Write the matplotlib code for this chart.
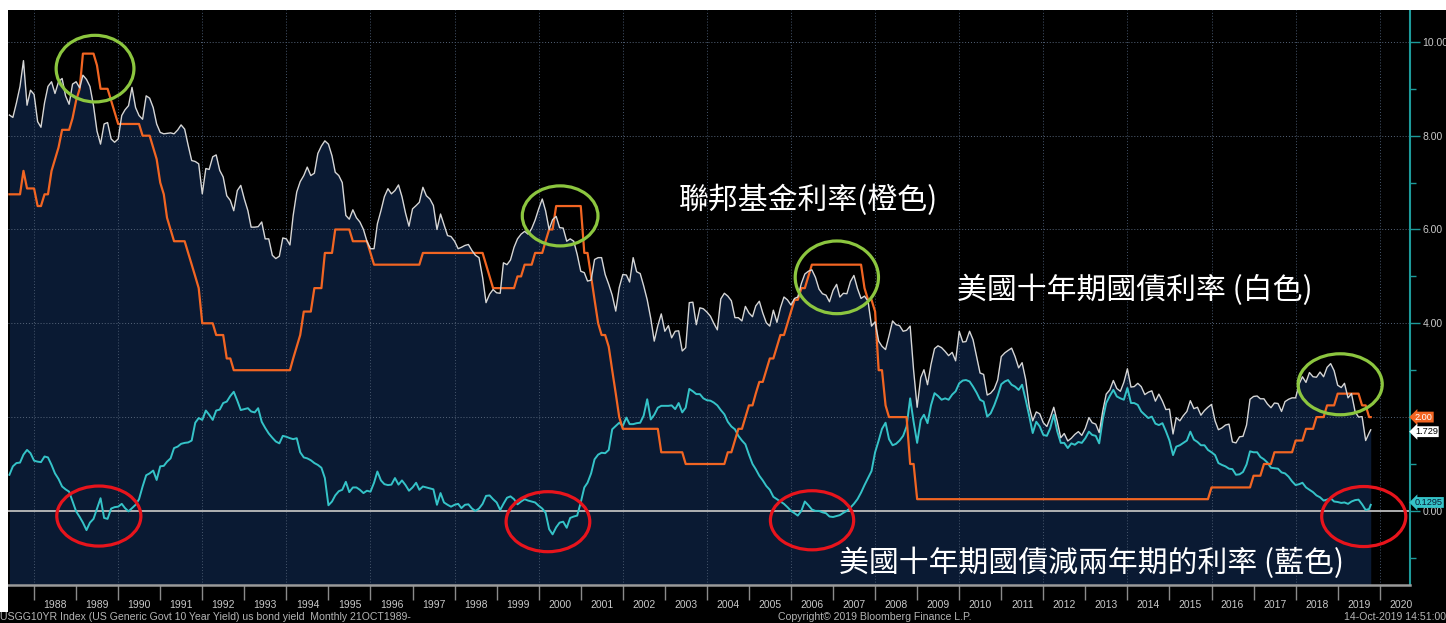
import numpy as np
import pandas as pd
import matplotlib
matplotlib.use("Agg")
import matplotlib.pyplot as plt
from matplotlib.patches import Ellipse, Rectangle
import matplotlib.transforms as mtransforms

# ---- data: month-end values, May 1987 .. 14 Oct 2019 ----
ten_year = [
    # 1987 (May-Dec)
    8.44, 8.39, 8.70, 9.05, 9.60, 8.65, 8.97, 8.88,
    # 1988
    8.30, 8.18, 8.70, 9.05, 9.15, 8.90, 9.15, 9.22, 8.85, 8.67, 9.10, 9.15,
    # 1989
    9.02, 9.29, 9.20, 9.05, 8.64, 8.10, 7.82, 8.25, 8.28, 7.93, 7.86, 7.93,
    # 1990
    8.43, 8.55, 8.64, 9.03, 8.60, 8.43, 8.35, 8.85, 8.80, 8.60, 8.25, 8.07,
    # 1991
    8.04, 8.05, 8.06, 8.04, 8.12, 8.23, 8.14, 7.79, 7.47, 7.45, 7.40, 6.76,
    # 1992
    7.30, 7.28, 7.55, 7.59, 7.26, 7.12, 6.72, 6.62, 6.40, 6.83, 6.94, 6.65,
    # 1993
    6.40, 6.05, 6.05, 6.06, 6.16, 5.80, 5.80, 5.45, 5.38, 5.43, 5.82, 5.80,
    # 1994
    5.67, 6.30, 6.80, 7.02, 7.15, 7.33, 7.15, 7.20, 7.62, 7.78, 7.89, 7.82,
    # 1995
    7.57, 7.22, 7.15, 7.00, 6.30, 6.22, 6.42, 6.25, 6.16, 6.00, 5.75, 5.59,
    # 1996
    5.59, 6.12, 6.40, 6.70, 6.87, 6.76, 6.83, 6.95, 6.70, 6.35, 6.07, 6.44,
    # 1997
    6.51, 6.58, 6.90, 6.72, 6.65, 6.51, 6.00, 6.33, 6.10, 5.87, 5.85, 5.75,
    # 1998
    5.59, 5.62, 5.66, 5.68, 5.55, 5.45, 5.40, 4.98, 4.44, 4.62, 4.72, 4.65,
    # 1999
    4.64, 5.29, 5.25, 5.35, 5.62, 5.80, 5.90, 5.96, 5.90, 6.02, 6.20, 6.44,
    # 2000
    6.65, 6.40, 6.00, 6.21, 6.28, 6.04, 6.03, 5.75, 5.80, 5.75, 5.47, 5.11,
    # 2001
    5.08, 4.90, 4.92, 5.36, 5.40, 5.40, 5.04, 4.83, 4.60, 4.26, 4.76, 5.04,
    # 2002
    5.03, 4.88, 5.40, 5.10, 5.06, 4.80, 4.50, 4.10, 3.62, 3.95, 4.20, 3.83,
    # 2003
    3.95, 3.69, 3.83, 3.84, 3.41, 3.48, 4.44, 4.45, 3.97, 4.33, 4.31, 4.24,
    # 2004
    4.15, 4.00, 3.86, 4.52, 4.64, 4.58, 4.48, 4.12, 4.12, 4.05, 4.36, 4.22,
    # 2005
    4.14, 4.37, 4.47, 4.22, 4.01, 3.94, 4.28, 4.02, 4.33, 4.56, 4.50, 4.39,
    # 2006
    4.53, 4.56, 4.85, 5.05, 5.11, 5.14, 4.98, 4.73, 4.63, 4.60, 4.46, 4.70,
    # 2007
    4.83, 4.56, 4.64, 4.63, 4.89, 5.02, 4.74, 4.53, 4.58, 4.47, 3.94, 4.03,
    # 2008
    3.62, 3.51, 3.44, 3.73, 4.05, 3.97, 3.95, 3.83, 3.85, 3.94, 3.00, 2.21,
    # 2009
    2.84, 3.01, 2.69, 3.12, 3.46, 3.52, 3.48, 3.40, 3.31, 3.38, 3.20, 3.83,
    # 2010
    3.60, 3.61, 3.83, 3.65, 3.29, 2.94, 2.91, 2.47, 2.51, 2.60, 2.79, 3.29,
    # 2011
    3.37, 3.42, 3.47, 3.29, 3.05, 3.16, 2.80, 2.22, 1.92, 2.11, 2.07, 1.88,
    # 2012
    1.80, 1.98, 2.21, 1.91, 1.56, 1.65, 1.49, 1.55, 1.63, 1.69, 1.61, 1.76,
    # 2013
    1.99, 1.88, 1.85, 1.67, 2.13, 2.49, 2.58, 2.78, 2.61, 2.55, 2.74, 3.03,
    # 2014
    2.64, 2.65, 2.72, 2.65, 2.48, 2.53, 2.56, 2.34, 2.49, 2.34, 2.16, 2.17,
    # 2015
    1.64, 1.99, 1.92, 2.03, 2.12, 2.35, 2.18, 2.21, 2.04, 2.14, 2.21, 2.27,
    # 2016
    1.92, 1.73, 1.77, 1.83, 1.85, 1.47, 1.45, 1.58, 1.59, 1.83, 2.38, 2.44,
    # 2017
    2.45, 2.39, 2.39, 2.28, 2.20, 2.30, 2.29, 2.12, 2.33, 2.38, 2.41, 2.41,
    # 2018
    2.71, 2.86, 2.74, 2.95, 2.86, 2.85, 2.96, 2.86, 3.06, 3.14, 2.99, 2.68,
    # 2019 (Jan-Oct)
    2.63, 2.72, 2.41, 2.50, 2.12, 2.00, 2.01, 1.50, 1.66, 1.729,
]

spread_10y_2y = [
    # 1987 (May-Dec)
    0.77, 0.95, 1.02, 1.03, 1.20, 1.30, 1.23, 1.07,
    # 1988
    1.05, 1.04, 1.16, 1.14, 0.98, 0.80, 0.68, 0.52, 0.46, 0.41, 0.20, -0.01,
    # 1989
    -0.13, -0.25, -0.41, -0.25, -0.17, 0.05, 0.27, -0.15, -0.17, 0.05, 0.08, 0.09,
    # 1990
    0.15, 0.06, -0.01, 0.06, 0.13, 0.25, 0.52, 0.76, 0.80, 0.86, 0.66, 0.95,
    # 1991
    0.96, 1.05, 1.12, 1.34, 1.37, 1.43, 1.45, 1.46, 1.50, 1.88, 1.98, 1.94,
    # 1992
    2.14, 2.05, 1.94, 2.14, 2.16, 2.30, 2.33, 2.45, 2.54, 2.35, 2.15, 2.17,
    # 1993
    2.19, 2.12, 2.10, 2.19, 1.90, 1.77, 1.65, 1.56, 1.48, 1.44, 1.60, 1.58,
    # 1994
    1.55, 1.53, 1.55, 1.25, 1.14, 1.12, 1.08, 1.02, 0.98, 0.92, 0.70, 0.12,
    # 1995
    0.20, 0.33, 0.42, 0.45, 0.62, 0.40, 0.50, 0.50, 0.45, 0.38, 0.43, 0.41,
    # 1996
    0.60, 0.84, 0.65, 0.57, 0.55, 0.56, 0.70, 0.56, 0.65, 0.55, 0.43, 0.50,
    # 1997
    0.60, 0.45, 0.52, 0.50, 0.48, 0.46, 0.13, 0.38, 0.18, 0.13, 0.09, 0.13,
    # 1998
    0.15, 0.06, 0.13, 0.14, 0.05, 0.00, 0.05, 0.15, 0.32, 0.33, 0.25, 0.18,
    # 1999
    0.02, 0.15, 0.28, 0.31, 0.25, 0.14, 0.20, 0.25, 0.22, 0.20, 0.18, 0.11,
    # 2000
    0.05, -0.04, -0.39, -0.50, -0.35, -0.25, -0.23, -0.36, -0.15, -0.12, -0.10, 0.18,
    # 2001
    0.50, 0.60, 0.80, 1.10, 1.20, 1.24, 1.23, 1.30, 1.74, 1.81, 1.88, 1.81,
    # 2002
    1.99, 1.85, 1.85, 1.87, 1.88, 2.03, 2.38, 1.95, 2.05, 2.20, 2.24, 2.24,
    # 2003
    2.24, 2.25, 2.17, 2.30, 2.10, 2.20, 2.60, 2.55, 2.49, 2.49, 2.40, 2.36,
    # 2004
    2.35, 2.31, 2.25, 2.15, 2.06, 1.90, 1.80, 1.74, 1.60, 1.50, 1.42, 1.20,
    # 2005
    1.00, 0.89, 0.75, 0.65, 0.53, 0.45, 0.30, 0.25, 0.20, 0.15, 0.08, 0.00,
    # 2006
    -0.05, -0.10, 0.00, 0.20, 0.12, 0.03, 0.00, 0.00, -0.03, -0.05, -0.12, -0.13,
    # 2007
    -0.11, -0.09, -0.04, 0.00, 0.07, 0.15, 0.25, 0.39, 0.55, 0.70, 0.85, 1.25,
    # 2008
    1.50, 1.75, 1.88, 1.53, 1.40, 1.43, 1.50, 1.60, 1.80, 2.40, 1.90, 1.45,
    # 2009
    1.94, 2.05, 1.87, 2.25, 2.51, 2.45, 2.37, 2.40, 2.37, 2.48, 2.55, 2.72,
    # 2010
    2.78, 2.79, 2.76, 2.65, 2.52, 2.37, 2.33, 2.01, 2.08, 2.25, 2.45, 2.70,
    # 2011
    2.76, 2.79, 2.69, 2.65, 2.58, 2.69, 2.37, 2.02, 1.66, 1.90, 1.80, 1.62,
    # 2012
    1.60, 1.76, 2.05, 1.70, 1.45, 1.45, 1.34, 1.44, 1.41, 1.47, 1.45, 1.55,
    # 2013
    1.69, 1.62, 1.60, 1.44, 1.95, 2.30, 2.45, 2.58, 2.44, 2.40, 2.37, 2.62,
    # 2014
    2.30, 2.30, 2.26, 2.12, 2.05, 1.98, 2.01, 1.86, 1.83, 1.87, 1.70, 1.50,
    # 2015
    1.19, 1.37, 1.40, 1.45, 1.50, 1.69, 1.52, 1.47, 1.40, 1.40, 1.30, 1.25,
    # 2016
    1.19, 1.02, 0.98, 0.95, 0.90, 0.89, 0.77, 0.78, 0.83, 0.99, 1.27, 1.25,
    # 2017
    1.25, 1.15, 1.10, 1.03, 0.92, 0.91, 0.90, 0.82, 0.80, 0.73, 0.63, 0.55,
    # 2018
    0.57, 0.60, 0.50, 0.45, 0.40, 0.33, 0.29, 0.22, 0.24, 0.27, 0.20, 0.19,
    # 2019 (Jan-Oct)
    0.17, 0.18, 0.15, 0.20, 0.23, 0.24, 0.14, 0.02, 0.04, 0.1295,
]

# fed funds target: date of each change and the new level
fed_change_dates = [
    "1987-05-01", "1987-09-04", "1987-10-22", "1988-01-28", "1988-03-30",
    "1988-05-09", "1988-05-25", "1988-06-22", "1988-07-19", "1988-08-09",
    "1988-11-17", "1988-12-15", "1989-01-05", "1989-02-09", "1989-02-24",
    "1989-06-06", "1989-07-07", "1989-07-27", "1989-10-18", "1989-11-06",
    "1989-12-20", "1990-07-13", "1990-10-29", "1990-11-14", "1990-12-07",
    "1990-12-19", "1991-01-09", "1991-02-01", "1991-03-08", "1991-04-30",
    "1991-08-06", "1991-09-13", "1991-10-31", "1991-11-06", "1991-12-06",
    "1991-12-20", "1992-04-09", "1992-07-02", "1992-09-04", "1994-02-04",
    "1994-03-22", "1994-04-18", "1994-05-17", "1994-08-16", "1994-11-15",
    "1995-02-01", "1995-07-06", "1995-12-19", "1996-01-31", "1997-03-25",
    "1998-09-29", "1998-10-15", "1998-11-17", "1999-06-30", "1999-08-24",
    "1999-11-16", "2000-02-02", "2000-03-21", "2000-05-16", "2001-01-03",
    "2001-01-31", "2001-03-20", "2001-04-18", "2001-05-15", "2001-06-27",
    "2001-08-21", "2001-09-17", "2001-10-02", "2001-11-06", "2001-12-11",
    "2002-11-06", "2003-06-25", "2004-06-30", "2004-08-10", "2004-09-21",
    "2004-11-10", "2004-12-14", "2005-02-02", "2005-03-22", "2005-05-03",
    "2005-06-30", "2005-08-09", "2005-09-20", "2005-11-01", "2005-12-13",
    "2006-01-31", "2006-03-28", "2006-05-10", "2006-06-29", "2007-09-18",
    "2007-10-31", "2007-12-11", "2008-01-22", "2008-01-30", "2008-03-18",
    "2008-04-30", "2008-10-08", "2008-10-29", "2008-12-16", "2015-12-16",
    "2016-12-14", "2017-03-15", "2017-06-14", "2017-12-13", "2018-03-21",
    "2018-06-13", "2018-09-26", "2018-12-19", "2019-07-31", "2019-09-18",
]
fed_target = [
    6.75, 7.25, 6.875, 6.50, 6.75,
    7.00, 7.25, 7.50, 7.75, 8.125,
    8.375, 8.75, 9.00, 9.25, 9.75,
    9.50, 9.25, 9.00, 8.75, 8.50,
    8.25, 8.00, 7.75, 7.50, 7.25,
    7.00, 6.75, 6.25, 6.00, 5.75,
    5.50, 5.25, 5.00, 4.75, 4.50,
    4.00, 3.75, 3.25, 3.00, 3.25,
    3.50, 3.75, 4.25, 4.75, 5.50,
    6.00, 5.75, 5.50, 5.25, 5.50,
    5.25, 5.00, 4.75, 5.00, 5.25,
    5.50, 5.75, 6.00, 6.50, 6.00,
    5.50, 5.00, 4.50, 4.00, 3.75,
    3.50, 3.00, 2.50, 2.00, 1.75,
    1.25, 1.00, 1.25, 1.50, 1.75,
    2.00, 2.25, 2.50, 2.75, 3.00,
    3.25, 3.50, 3.75, 4.00, 4.25,
    4.50, 4.75, 5.00, 5.25, 4.75,
    4.50, 4.25, 3.50, 3.00, 2.25,
    2.00, 1.50, 1.00, 0.25, 0.50,
    0.75, 1.00, 1.25, 1.50, 1.75,
    2.00, 2.25, 2.50, 2.25, 2.00,
]

year_labels = list(range(1988, 2021))
right_ticks = [0, 2, 4, 6, 8, 10]

# annotation ellipses: (year, value, width in years, height in %)
green_rings = [(1989.45, 9.43, 1.85, 1.42), (2000.51, 6.29, 1.80, 1.28),
               (2007.09, 4.98, 1.98, 1.55), (2019.06, 2.70, 2.00, 1.30)]
red_rings = [(1989.54, -0.11, 2.00, 1.28), (2000.22, -0.23, 1.99, 1.28),
             (2006.50, -0.20, 1.98, 1.26), (2019.62, -0.12, 2.00, 1.28)]

NAVY = "#0a1a33"
ORANGE = "#f26522"
TEAL = "#35c3c8"
WHITE_LINE = "#d6d6d6"
AXIS_TEAL = "#1d9a9a"
LABEL = "#c8c8c8"
CJK = ["Noto Sans CJK TC", "DejaVu Sans"]

# ---- build monthly time axis ----
dates = pd.date_range("1987-05-31", periods=len(ten_year), freq="ME")
dates = dates[:-1].append(pd.DatetimeIndex(["2019-10-14"]))
days_in_year = np.where(dates.is_leap_year, 366.0, 365.0)
t = dates.year + dates.dayofyear / days_in_year

fed_dates = pd.to_datetime(fed_change_dates)
idx = np.searchsorted(fed_dates.values, dates.values, side="right") - 1
fed_monthly = np.array(fed_target)[idx]

ten_year = np.array(ten_year)
spread_10y_2y = np.array(spread_10y_2y)

W, H = 1446, 623
fig = plt.figure(figsize=(W / 100, H / 100), dpi=100, facecolor="black")
# white frame strips at top and left, as in the screenshot
fig.patches.append(Rectangle((0, 1 - 10 / H), 1, 10 / H, transform=fig.transFigure,
                             facecolor="white", edgecolor="none", zorder=0))
fig.patches.append(Rectangle((0, 11 / H), 8 / W, 1 - 21 / H, transform=fig.transFigure,
                             facecolor="white", edgecolor="none", zorder=0))

ax = fig.add_axes([8 / W, 1 - 585 / H, (1410 - 8) / W, (585 - 10) / H])
ax.set_facecolor("black")

ymin, ymax = -1.58, 10.68
ax.set_xlim(1987.38, 2020.72)
ax.set_ylim(ymin, ymax)

# area under the 10y yield
ax.fill_between(t, ten_year, ymin, color=NAVY, lw=0, zorder=1)

# dotted grid
for yv in [2, 4, 6, 8, 10]:
    ax.axhline(yv, color="#56657a", lw=0.7, ls=(0, (1, 2)), zorder=1.5)
for xv in range(1988, 2021, 2):
    ax.axvline(xv, color="#46566c", lw=0.7, ls=(0, (1, 2)), zorder=1.5)
ax.axhline(0, color="#bdbdbd", lw=1.3, zorder=2.5)

ax.plot(t, spread_10y_2y, color=TEAL, lw=1.4, zorder=3)
ax.plot(t, fed_monthly, color=ORANGE, lw=1.6, zorder=3.2)
ax.plot(t, ten_year, color=WHITE_LINE, lw=1.0, zorder=3.4)

for (cx, cy, w, h) in green_rings:
    ax.add_patch(Ellipse((cx, cy), w, h, fill=False, ec="#8cc63f", lw=2.3, zorder=6))
for (cx, cy, w, h) in red_rings:
    ax.add_patch(Ellipse((cx, cy), w, h, fill=False, ec="#e8141c", lw=2.3, zorder=6))

# chinese labels
ax.text(2006.41, 6.63, "聯邦基金利率(橙色)", color="white", fontsize=21.5,
        family=CJK, ha="center", va="center", zorder=7)
ax.text(2014.18, 4.71, "美國十年期國債利率 (白色)", color="white", fontsize=21.5,
        family=CJK, ha="center", va="center", zorder=7)
ax.text(2013.14, -1.11, "美國十年期國債減兩年期的利率 (藍色)", color="white", fontsize=21.5,
        family=CJK, ha="center", va="center", zorder=7)

# spines
for s in ["left", "top"]:
    ax.spines[s].set_visible(False)
ax.spines["right"].set_color(AXIS_TEAL)
ax.spines["right"].set_linewidth(1.5)
ax.spines["bottom"].set_color("#9a9a9a")
ax.spines["bottom"].set_linewidth(1.8)

# x axis: ticks at year boundaries, labels centred in each year
ax.set_xticks(range(1988, 2021))
ax.set_xticks([y + 0.5 for y in year_labels], minor=True)
ax.set_xticklabels([str(y) for y in year_labels], minor=True)
ax.tick_params(axis="x", which="major", length=11, width=1, color="#8a8a8a",
               labelbottom=False)
ax.tick_params(axis="x", which="minor", length=0, pad=11, labelsize=7.5,
               labelcolor=LABEL)
for lab in ax.get_xticklabels(minor=True):
    lab.set_family("Liberation Sans")

# y axis on the right; the 2.00 label sits under the orange last-value tag
ax.yaxis.tick_right()
ax.set_yticks(right_ticks)
ax.set_yticklabels(["" if v == 2 else "%.2f" % v for v in right_ticks])
ax.set_yticks([-1, 1, 3, 5, 7, 9], minor=True)
ax.tick_params(axis="y", which="major", length=7, width=1, color=AXIS_TEAL,
               labelsize=7.5, labelcolor=LABEL, pad=2)
ax.tick_params(axis="y", which="minor", length=4, width=1, color=AXIS_TEAL)
for lab in ax.get_yticklabels():
    lab.set_family("Liberation Sans")

# last-value tags
blend = mtransforms.blended_transform_factory(ax.transAxes, ax.transData)
tags = [(fed_monthly[-1], "%.2f" % fed_monthly[-1], ORANGE, "white", 0.0),
        (ten_year[-1], "%.3f" % ten_year[-1], "white", "black", -0.04),
        (spread_10y_2y[-1], "%.4f" % spread_10y_2y[-1], TEAL, "#0a1a33", 0.05)]
for val, txt, fc, tc, dy in tags:
    ax.text(1.0035, val + dy, txt, transform=blend, fontsize=6.6, color=tc,
            family="Liberation Sans", ha="left", va="center", zorder=10,
            bbox=dict(boxstyle="larrow,pad=0.1", fc=fc, ec="none"))

# footer
foot = dict(color="#b4b4b4", fontsize=7.6, family="Liberation Sans", va="center")
fig.text(0.0, 6 / H, "USGG10YR Index (US Generic Govt 10 Year Yield) us bond yield  Monthly 21OCT1989-",
         ha="left", **foot)
fig.text(875 / W, 6 / H, "Copyright© 2019 Bloomberg Finance L.P.", ha="center", **foot)
fig.text(1.0, 6 / H, "14-Oct-2019 14:51:00", ha="right", **foot)

fig.savefig("out.png", dpi=100, facecolor=fig.get_facecolor())
